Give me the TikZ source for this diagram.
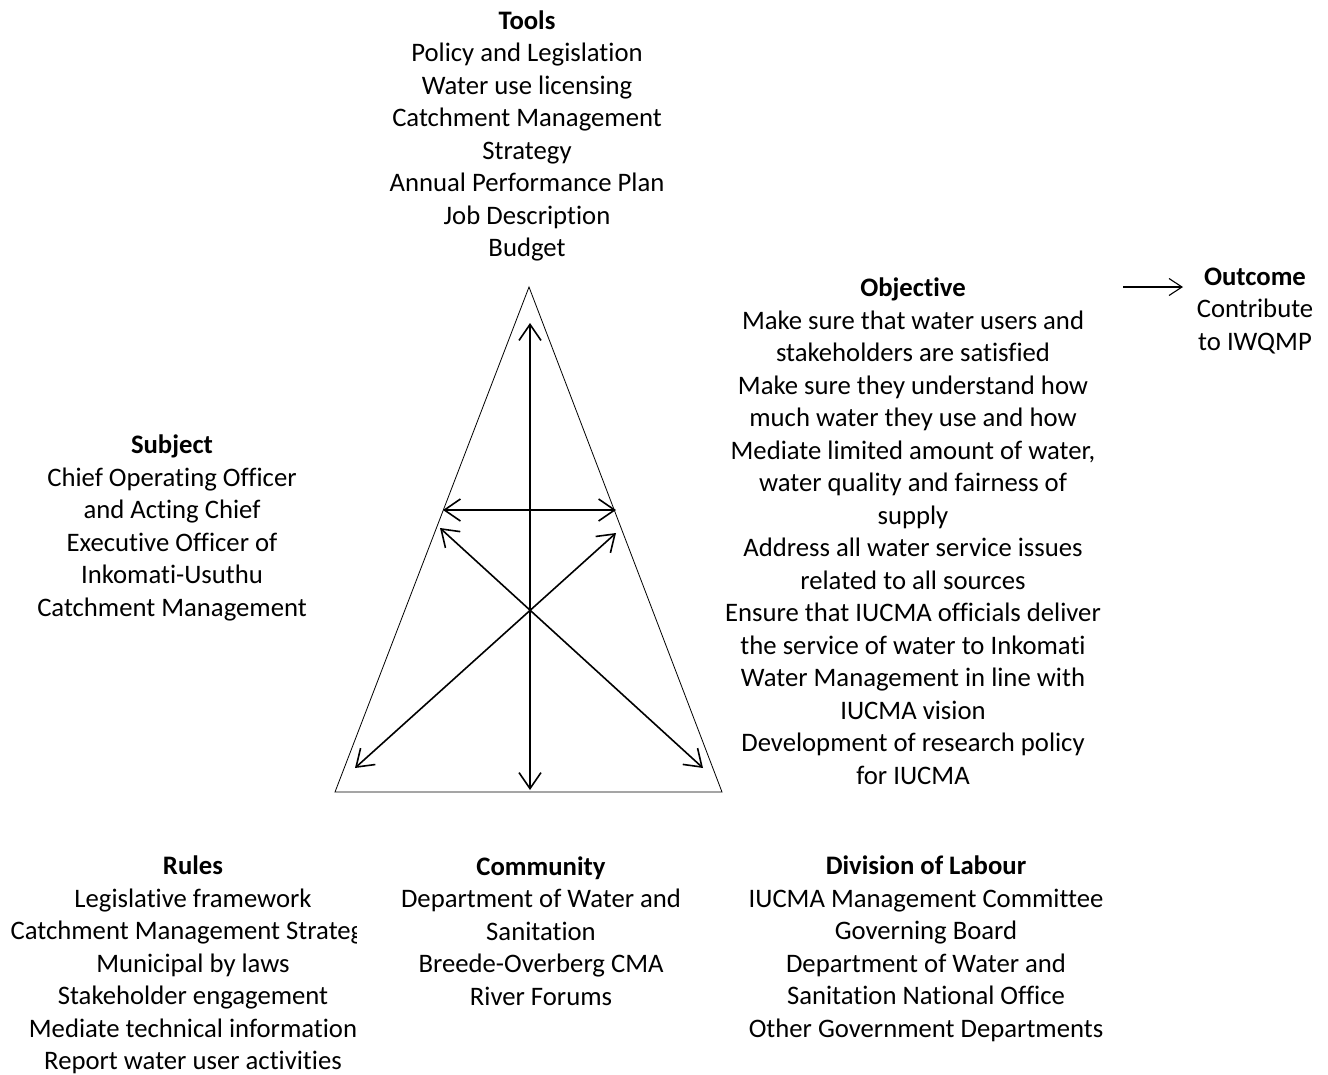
\documentclass[tikz,border=0pt]{standalone}
\usepackage{fontspec}
\setmainfont[Ligatures=NoCommon]{Carlito}
\usetikzlibrary{arrows.meta}

\begin{document}
\begin{tikzpicture}[x=1pt, y=-1pt,
    txt/.style={align=center, inner sep=0pt, font=\fontsize{26.7}{32.5}\selectfont},
    link/.style={{Straight Barb[length=16pt,width=22pt]}-{Straight Barb[length=16pt,width=22pt]}, line width=1.6pt}]
    \useasboundingbox (0,0) rectangle (1328,1074);

    \node (tools) at (527,136) [txt] {\textbf{Tools}\\Policy and Legislation\\Water use licensing\\Catchment Management\\Strategy\\Annual Performance Plan\\Job Description\\Budget};
    \node (subject) at (172,528) [txt] {\textbf{Subject}\\Chief Operating Officer\\and Acting Chief\\Executive Officer of\\Inkomati-Usuthu\\Catchment Management};
    \node (objective) at (913,531) [txt] {\textbf{Objective}\\Make sure that water users and\\stakeholders are satisfied\\Make sure they understand how\\much water they use and how\\Mediate limited amount of water,\\water quality and fairness of\\supply\\Address all water service issues\\related to all sources\\Ensure that IUCMA officials deliver\\the service of water to Inkomati\\Water Management in line with\\IUCMA vision\\Development of research policy\\for IUCMA};
    \node (outcome) at (1255,311) [txt] {\textbf{Outcome}\\Contribute\\to IWQMP};
    \begin{scope}
        \clip (0,845) rectangle (356,1074);
        \node (rules) at (193,965) [txt] {\textbf{Rules}\\Legislative framework\\Catchment Management Strategy\\Municipal by laws\\Stakeholder engagement\\Mediate technical information\\Report water user activities};
    \end{scope}
    \node (community) at (541,931) [txt] {\textbf{Community}\\Department of Water and\\Sanitation\\Breede-Overberg CMA\\River Forums};
    \node (labour) at (926,949) [txt] {\textbf{Division of Labour}\\IUCMA Management Committee\\Governing Board\\Department of Water and\\Sanitation National Office\\Other Government Departments};

    % triangle
    \coordinate (apex) at (529,287);
    \coordinate (bl) at (335,792);
    \coordinate (br) at (722,792);
    \draw[line width=0.8pt] (apex) -- (bl) -- (br) -- cycle;

    \coordinate (top) at (530,323);
    \coordinate (bottom) at (530,790);
    \coordinate (midl) at (443,510);
    \coordinate (midr) at (616,510);
    \coordinate (ul) at (440,528);
    \coordinate (ur) at (616,533);
    \coordinate (ll) at (355,768);
    \coordinate (lr) at (703,768);

    \draw[link] (top) -- (bottom);
    \draw[link] (midl) -- (midr);
    \draw[link] (ul) -- (lr);
    \draw[link] (ur) -- (ll);

    % to the outcome
    \coordinate (out) at (1123,287);
    \draw[-{Straight Barb[length=13pt,width=17pt]}, line width=1.1pt] (out) -- (1183,287);
\end{tikzpicture}
\end{document}
